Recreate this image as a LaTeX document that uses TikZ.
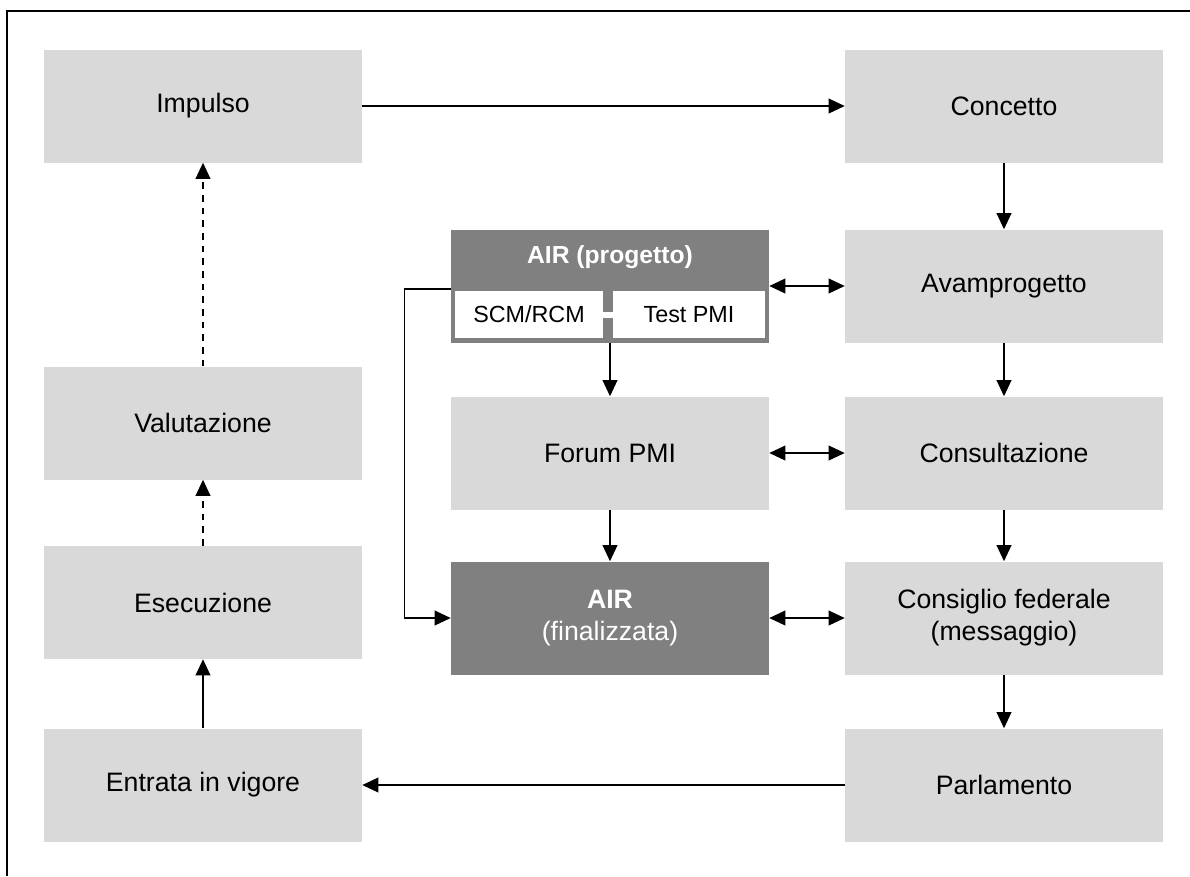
\documentclass[tikz,border=0pt]{standalone}
\usepackage{fontspec}
\setmainfont{Liberation Sans}
\usetikzlibrary{arrows.meta}
\definecolor{lightbox}{HTML}{D9D9D9}
\definecolor{darkbox}{HTML}{808080}
\begin{document}
\begin{tikzpicture}[x=0.75pt,y=-0.75pt,
  box/.style={fill=lightbox, minimum width=238.5pt, minimum height=84.75pt, inner sep=0pt, align=center,
    font=\fontsize{20}{24}\selectfont},
  darkfill/.style={fill=darkbox, minimum width=238.5pt, minimum height=84.75pt, inner sep=0pt, align=center,
    text=white, font=\fontsize{20}{24}\selectfont},
  subbox/.style={fill=white, minimum height=35.25pt, inner sep=0pt, font=\fontsize{17.5}{21}\selectfont},
  conn/.style={line width=1.1pt, -{Triangle[length=12pt,width=11pt]}},
  dconn/.style={line width=1.1pt, {Triangle[length=12pt,width=11pt]}-{Triangle[length=12pt,width=11pt]}},
  dashconn/.style={conn, dash pattern=on 5pt off 4.5pt}
]
\useasboundingbox (0,0) rectangle (1190,876);
% frame
\coordinate (ftl) at (6.5,10.5);
\coordinate (ftr) at (1190,10.5);
\coordinate (fbl) at (6.5,876);
\draw[line width=1.5pt] (ftr) -- (ftl) -- (fbl);

% left column
\node[box] (impulso) at (203,106) {Impulso};
\node[box] (valutazione) at (203,423) {Valutazione};
\node[box] (esecuzione) at (203,602.5) {Esecuzione};
\node[box] (entrata) at (203,785) {Entrata in vigore};

% right column
\node[box] (concetto) at (1004,106) {Concetto};
\node[box] (avamprogetto) at (1004,286) {Avamprogetto};
\node[box] (consultazione) at (1004,453) {Consultazione};
\node[box] (consiglio) at (1004,618) {Consiglio federale\\(messaggio)};
\node[box] (parlamento) at (1004,785) {Parlamento};

% middle column
\node[darkfill] (airp) at (610,286) {};
\node[text=white, font=\fontsize{18.5}{22}\selectfont\bfseries] (airptitle) at (610,257) {AIR (progetto)};
\node[subbox, minimum width=111pt] (scm) at (529,314.5) {SCM/RCM};
\node[subbox, minimum width=114pt] (testpmi) at (689,314.5) {Test PMI};
\draw[white, line width=4.5pt] (scm.east) -- (testpmi.west);
\node[box] (forum) at (610,453) {Forum PMI};
\node[darkfill] (airf) at (610,618) {\textbf{AIR}\\(finalizzata)};

% connectors
\draw[conn] (impulso.east) -- (concetto.west);
\draw[conn] (concetto.south) -- (avamprogetto.north);
\draw[conn] (avamprogetto.south) -- (consultazione.north);
\draw[conn] (consultazione.south) -- (consiglio.north);
\draw[conn] (consiglio.south) -- (parlamento.north);
\draw[conn] (parlamento.west) -- (entrata.east);
\draw[conn] (entrata.north) -- (esecuzione.south);
\draw[dashconn] (esecuzione.north) -- (valutazione.south);
\draw[dashconn] (valutazione.north) -- (impulso.south);

\draw[dconn] (airp.east) -- (avamprogetto.west);
\draw[dconn] (forum.east) -- (consultazione.west);
\draw[dconn] (airf.east) -- (consiglio.west);

\draw[conn] (airp.south) -- (forum.north);
\draw[conn] (forum.south) -- (airf.north);
\draw[conn] ([yshift=-2.25pt]airp.west) -- ++(-46,0) |- (airf.west);
\end{tikzpicture}
\end{document}
